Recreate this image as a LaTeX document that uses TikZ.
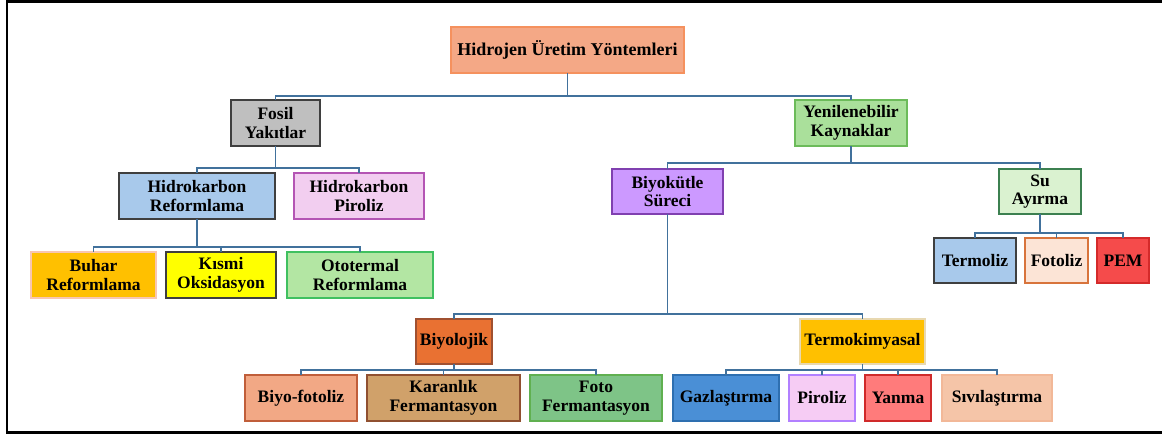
\documentclass[tikz,border=0pt]{standalone}
\usepackage{fontspec}
\setmainfont{Liberation Serif}
\begin{document}
\begin{tikzpicture}[x=1pt,y=-1pt,
  box/.style={rectangle, draw, line width=1.3pt, minimum height=46pt, inner sep=0pt, outer sep=0pt,
    align=center, text=black, font=\fontsize{17.5}{18.5}\selectfont\bfseries},
  darkbox/.style={box, draw=dkgray, line width=1.8pt},
  conn/.style={draw=connc, line width=1.5pt}]
\definecolor{connc}{HTML}{41719C}
\definecolor{dkgray}{HTML}{3F3F3F}
\useasboundingbox (0,0) rectangle (1162,434);
\draw[line width=2.6pt, black] (1170,1.3) -- (7,1.3) -- (7,432.5) -- (1170,432.5);

% level 0
\node[box, fill={rgb,255:red,244;green,168;blue,134}, draw={rgb,255:red,245;green,145;blue,94}, minimum width=233pt,
  font=\fontsize{18}{18}\selectfont\bfseries] (title) at (567.5,50) {Hidrojen Üretim Yöntemleri};
% level 1
\node[darkbox, fill={rgb,255:red,191;green,191;blue,191}, minimum width=89pt] (fosil) at (275.5,123) {Fosil\\Yakıtlar};
\node[box, fill={rgb,255:red,170;green,224;blue,155}, draw={rgb,255:red,108;green,187;blue,90}, minimum width=112pt] (yen) at (851,123) {Yenilenebilir\\Kaynaklar};
% level 2
\node[darkbox, fill={rgb,255:red,168;green,201;blue,235}, minimum width=156pt] (hrref) at (197,196) {Hidrokarbon\\Reformlama};
\node[box, fill={rgb,255:red,242;green,206;blue,240}, draw={rgb,255:red,180;green,85;blue,180}, minimum width=130pt] (hrpir) at (359,196) {Hidrokarbon\\Piroliz};
\node[box, fill={rgb,255:red,204;green,153;blue,255}, draw={rgb,255:red,128;green,64;blue,176}, minimum width=111pt, minimum height=45pt] (biyo) at (667.5,191.5) {Biyokütle\\Süreci};
\node[box, fill={rgb,255:red,218;green,242;blue,208}, draw={rgb,255:red,60;green,128;blue,80}, minimum width=82pt, minimum height=45pt] (su) at (1040,191.5) {Su\\Ayırma};
% level 3 left
\node[box, fill={rgb,255:red,255;green,192;blue,0}, draw={rgb,255:red,248;green,198;blue,176}, minimum width=125pt] (buhar) at (93.5,275) {Buhar\\Reformlama};
\node[darkbox, fill={rgb,255:red,255;green,255;blue,0}, minimum width=110pt] (kismi) at (221,275) {Kısmi\\Oksidasyon};
\node[box, fill={rgb,255:red,179;green,230;blue,163}, draw={rgb,255:red,64;green,192;blue,96}, minimum width=146pt] (oto) at (360,275) {Ototermal\\Reformlama};
% su children
\node[darkbox, fill={rgb,255:red,168;green,201;blue,235}, minimum width=82pt, minimum height=45pt] (termoliz) at (975,260.5) {Termoliz};
\node[box, fill={rgb,255:red,252;green,228;blue,214}, draw={rgb,255:red,216;green,116;blue,60}, minimum width=63pt, minimum height=45pt] (fotoliz) at (1056.5,260.5) {Fotoliz};
\node[box, fill={rgb,255:red,245;green,75;blue,75}, draw={rgb,255:red,212;green,42;blue,42}, minimum width=52pt, minimum height=45pt] (pem) at (1123,260.5) {PEM};
% biyokutle children
\node[box, fill={rgb,255:red,233;green,113;blue,50}, draw={rgb,255:red,160;green,80;blue,48}, minimum width=76pt, minimum height=45pt] (biyol) at (454,341.5) {Biyolojik};
\node[box, fill={rgb,255:red,255;green,192;blue,0}, draw={rgb,255:red,232;green,216;blue,176}, minimum width=125pt, minimum height=45pt] (termo) at (862.5,341.5) {Termokimyasal};
% bottom
\node[box, fill={rgb,255:red,242;green,168;blue,133}, draw={rgb,255:red,192;green,94;blue,58}, minimum width=112pt] (biyofot) at (301,398) {Biyo-fotoliz};
\node[box, fill={rgb,255:red,208;green,161;blue,106}, draw={rgb,255:red,144;green,80;blue,48}, minimum width=153pt] (karan) at (443.5,398) {Karanlık\\Fermantasyon};
\node[box, fill={rgb,255:red,126;green,196;blue,135}, draw={rgb,255:red,96;green,176;blue,80}, minimum width=132pt] (fotof) at (596,398) {Foto\\Fermantasyon};
\node[box, fill={rgb,255:red,74;green,143;blue,214}, draw={rgb,255:red,46;green,111;blue,176}, minimum width=106pt] (gaz) at (726,398) {Gazlaştırma};
\node[box, fill={rgb,255:red,246;green,204;blue,244}, draw={rgb,255:red,178;green,128;blue,255}, minimum width=66pt] (pir) at (822,398) {Piroliz};
\node[box, fill={rgb,255:red,255;green,123;blue,123}, draw={rgb,255:red,208;green,42;blue,42}, minimum width=66pt] (yanma) at (898,398) {Yanma};
\node[box, fill={rgb,255:red,245;green,197;blue,168}, draw={rgb,255:red,242;green,184;blue,152}, minimum width=110pt] (sivi) at (997,398) {Sıvılaştırma};

% connectors
\foreach \c in {fosil,yen} \draw[conn] (title.south) -- ++(0,23) -| (\c.north);
\foreach \c in {hrref,hrpir} \draw[conn] (fosil.south) -- ++(0,22) -| (\c.north);
\foreach \c in {biyo,su} \draw[conn] (yen.south) -- ++(0,17) -| (\c.north);
\foreach \c in {buhar,kismi,oto} \draw[conn] (hrref.south) -- ++(0,28) -| (\c.north);
\foreach \c in {termoliz,fotoliz,pem} \draw[conn] (su.south) -- ++(0,19) -| (\c.north);
\foreach \c in {biyol,termo} \draw[conn] (biyo.south) -- ++(0,100) -| (\c.north);
\foreach \c in {biyofot,karan,fotof} \draw[conn] (biyol.south) -- ++(0,6) -| (\c.north);
\foreach \c in {gaz,pir,yanma,sivi} \draw[conn] (termo.south) -- ++(0,6) -| (\c.north);
\end{tikzpicture}
\end{document}
